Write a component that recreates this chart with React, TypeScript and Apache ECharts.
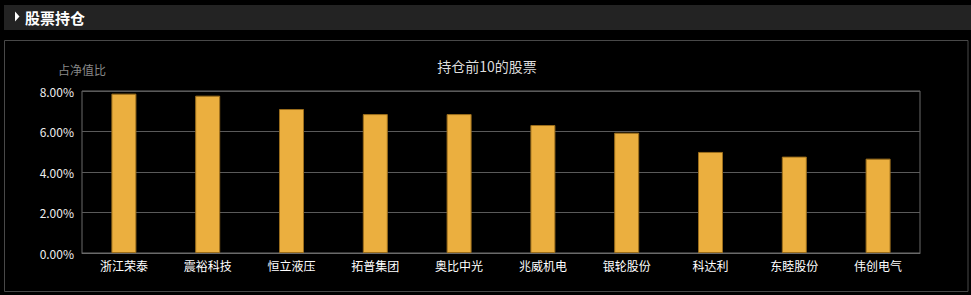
import React, { useEffect, useRef } from "react";
import * as echarts from "echarts";

const categories = ["浙江荣泰", "震裕科技", "恒立液压", "拓普集团", "奥比中光", "兆威机电", "银轮股份", "科达利", "东睦股份", "伟创电气"];
const values = [7.87, 7.77, 7.11, 6.86, 6.86, 6.32, 5.94, 4.99, 4.76, 4.66];
const yTicks = [0, 2, 4, 6, 8];
const headerTitle = "股票持仓";
const chartTitle = "持仓前10的股票";
const yName = "占净值比";

const FONT = "'Noto Sans CJK SC', 'Noto Sans', sans-serif";

export default function App() {
  const ref = useRef<HTMLDivElement>(null);
  useEffect(() => {
    document.body.style.margin = "0";
    document.body.style.background = "#000";
    const chart = echarts.init(ref.current!, null, { renderer: "svg" });
    chart.setOption({
      animation: false,
      backgroundColor: "#000",
      textStyle: { fontFamily: FONT },
      graphic: [
        { type: "rect", shape: { x: 4, y: 5, width: 967, height: 25 }, style: { fill: "#232323" } },
        { type: "polygon", shape: { points: [[15, 11.5], [15, 21.5], [19.5, 16.5]] }, style: { fill: "#ffffff" } },
        {
          type: "text",
          x: 25,
          y: 17,
          style: { text: headerTitle, fill: "#ffffff", font: `bold 15px ${FONT}`, textVerticalAlign: "middle" },
        },
        {
          type: "rect",
          shape: { x: 4.5, y: 40.5, width: 963.5, height: 251 },
          style: { fill: "none", stroke: "#484848", lineWidth: 1 },
        },
        {
          type: "text",
          x: 487,
          y: 65.5,
          style: { text: chartTitle, fill: "#dddddd", font: `14px ${FONT}`, textAlign: "center", textVerticalAlign: "middle" },
        },
        {
          type: "text",
          x: 82,
          y: 69,
          style: { text: yName, fill: "#888888", font: `12px ${FONT}`, textAlign: "center", textVerticalAlign: "middle" },
        },
      ],
      grid: {
        left: 82,
        top: 91,
        width: 838,
        height: 162,
        show: true,
        borderColor: "#6a6a6a",
        borderWidth: 1,
        backgroundColor: "transparent",
      },
      xAxis: {
        type: "category",
        data: categories,
        axisLine: { show: true, lineStyle: { color: "#6a6a6a" } },
        axisTick: { show: false },
        axisLabel: { color: "#ffffff", fontSize: 12, margin: 6, interval: 0, fontFamily: FONT },
      },
      yAxis: {
        type: "value",
        min: yTicks[0],
        max: yTicks[yTicks.length - 1],
        interval: 2,
        axisLine: { show: false },
        axisTick: { show: false },
        axisLabel: {
          color: "#eeeeee",
          fontSize: 12,
          margin: 8,
          fontFamily: FONT,
          formatter: (v: number) => v.toFixed(2) + "%",
        },
        splitLine: { show: true, lineStyle: { color: "#5a5a5a", width: 1 } },
      },
      series: [
        {
          type: "bar",
          data: values,
          barWidth: 25,
          itemStyle: { color: "#ebaf3f", borderColor: "#9a6d1c", borderWidth: 1 },
        },
      ],
    });
    return () => chart.dispose();
  }, []);
  return (
    <div
      ref={ref}
      style={{ position: "fixed", left: 0, top: 0, width: 971, height: 295, background: "#000" }}
    />
  );
}
